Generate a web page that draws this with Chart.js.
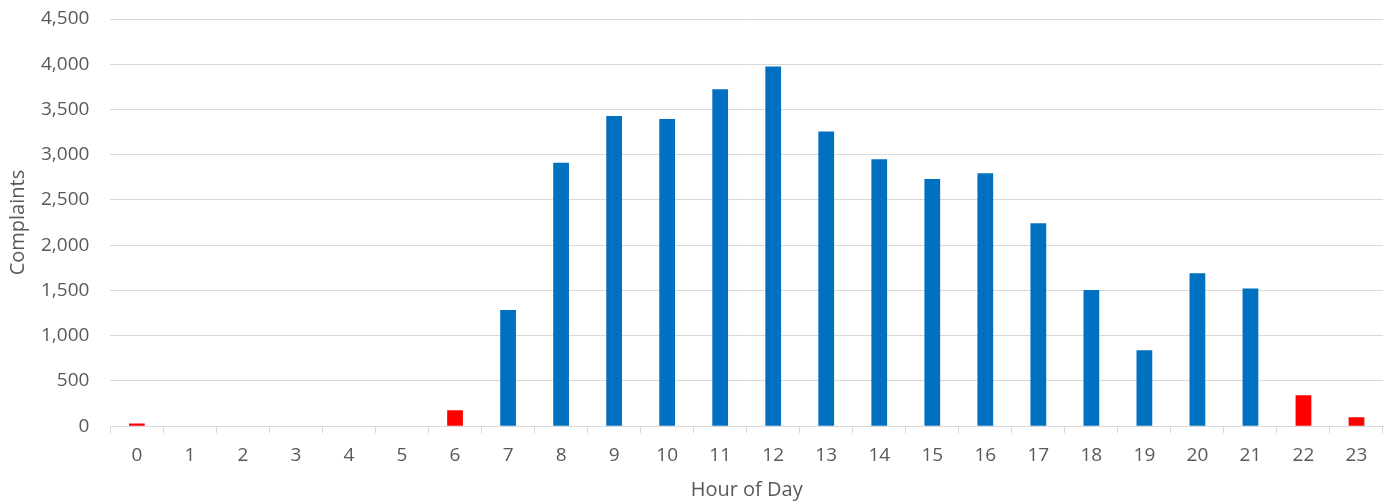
<!DOCTYPE html>
<html>
<head>
<meta charset="utf-8">
<script src="https://cdn.jsdelivr.net/npm/chart.js@4/dist/chart.umd.min.js"></script>
<style>
    html, body { margin: 0; padding: 0; background: #fff; }
    .wrap { width: 1393px; height: 502px; position: relative; }
</style>
</head>
<body>
<div class="wrap"><canvas id="chart"></canvas></div>
<script>
const hours = ['0', '1', '2', '3', '4', '5', '6', '7', '8', '9', '10', '11',
    '12', '13', '14', '15', '16', '17', '18', '19', '20', '21', '22', '23']
const complaints = [30, 0, 0, 0, 0, 0, 175, 1283, 2912, 3427, 3394, 3725,
    3975, 3258, 2950, 2732, 2795, 2243, 1505, 840, 1690, 1522, 343, 100]
const offHours = ['0', '1', '2', '3', '4', '5', '6', '22', '23']

const blue = '#0070c0'
const red = '#ff0000'
const textColor = '#595959'
const gridColor = '#d9d9d9'

const barColors = hours.map(h => offHours.includes(h) ? red : blue)

Chart.defaults.font.family = '"Open Sans", "Liberation Sans", sans-serif'
Chart.defaults.color = textColor

const ctx = document.querySelector('#chart').getContext('2d')

const chart = new Chart(ctx, {
    type: 'bar',
    data: {
        labels: hours,
        datasets: [{
            label: 'Complaints',
            data: complaints,
            backgroundColor: barColors,
            borderWidth: 0,
            barPercentage: 0.9,
            categoryPercentage: 0.33
        }]
    },
    options: {
        responsive: true,
        maintainAspectRatio: false,
        animation: false,
        layout: { padding: { top: 0, right: 10, left: 6, bottom: 0 } },
        plugins: {
            legend: { display: false },
            tooltip: { enabled: false }
        },
        scales: {
            x: {
                grid: {
                    offset: true,
                    drawOnChartArea: false,
                    color: gridColor,
                    tickLength: 7
                },
                border: { color: gridColor, width: 1 },
                ticks: { font: { size: 19 }, padding: 11 },
                title: {
                    display: true,
                    text: 'Hour of Day',
                    font: { size: 20 },
                    padding: { top: 0, bottom: 0 }
                }
            },
            y: {
                min: 0,
                max: 4500,
                // tick padding would otherwise push the top gridline down
                afterFit: scale => {
                    scale.paddingTop = 19
                    scale.paddingBottom = 0
                },
                ticks: {
                    stepSize: 500,
                    font: { size: 19 },
                    padding: 21,
                    callback: v => v.toLocaleString('en-US')
                },
                grid: { color: gridColor, drawTicks: false },
                border: { display: false },
                title: {
                    display: true,
                    text: 'Complaints',
                    font: { size: 20 },
                    padding: { top: 0, bottom: -10 }
                }
            }
        }
    }
})
</script>
</body>
</html>
